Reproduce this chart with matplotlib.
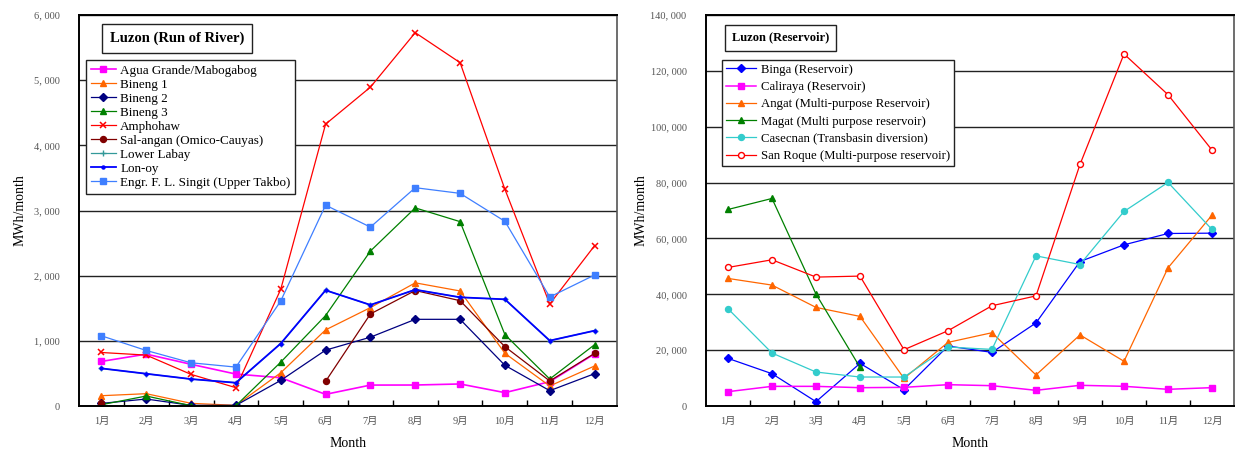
import numpy as np
import matplotlib
matplotlib.use("Agg")
import matplotlib.pyplot as plt
from matplotlib.ticker import FuncFormatter, FixedLocator

plt.rcParams['font.family'] = ['Liberation Serif', 'Noto Sans CJK JP']

months = ["1月", "2月", "3月", "4月", "5月", "6月", "7月", "8月", "9月", "10月", "11月", "12月"]
nan = np.nan

# Luzon run-of-river plants, MWh/month
agua_grande = [684, 796, 640, 490, 434, 179, 321, 322, 338, 205, 373, 800]
bineng_1 = [158, 189, 41, 10, 510, 1168, 1510, 1890, 1765, 808, 307, 614]
bineng_2 = [40, 107, 10, 10, 393, 857, 1056, 1330, 1330, 624, 235, 496]
bineng_3 = [20, 153, 5, 5, 673, 1388, 2378, 3040, 2829, 1095, 414, 941]
amphohaw = [821, 781, 485, 281, 1791, 4325, 4893, 5729, 5269, 3325, 1565, 2460]
sal_angan = [40, nan, nan, nan, nan, 378, 1413, 1772, 1616, 910, 384, 808]
lower_labay = [577, 495, 413, 357, 959, 1776, 1551, 1785, 1668, 1637, 1003, 1156]
lon_oy = [577, 495, 413, 357, 959, 1776, 1551, 1785, 1668, 1637, 1003, 1156]
singit = [1077, 852, 663, 597, 1612, 3082, 2745, 3350, 3263, 2834, 1673, 2010]

# Luzon reservoir plants, MWh/month
binga = [17055, 11568, 1550, 15266, 5844, 21467, 19201, 29749, 51732, 57706, 61768, 61888]
caliraya = [5128, 7037, 7037, 6560, 6680, 7633, 7275, 5615, 7407, 7049, 5973, 6571]
angat = [45677, 43292, 35301, 32081, 9898, 22779, 26238, 11111, 25448, 16010, 49462, 68339]
magat = [70364, 74311, 40072, 13834, nan, nan, nan, nan, nan, nan, nan, nan]
casecnan = [34824, 18962, 12164, 10375, 10375, 21109, 20274, 53763, 50657, 69654, 80048, 63202]
san_roque = [49612, 52356, 46154, 46512, 20155, 26953, 35898, 39427, 86499, 126045, 111470, 91637]

x = np.arange(1, 13)

fig = plt.figure(figsize=(12.35, 4.51), dpi=100)
ax1 = fig.add_axes([79 / 1235, 45 / 451, 538 / 1235, 391 / 451])
ax2 = fig.add_axes([706 / 1235, 45 / 451, 528 / 1235, 391 / 451])

left_series = [
    ("Agua Grande/Mabogabog", agua_grande, "#FF00FF", "s", 4.3, 1.2, {}),
    ("Bineng 1", bineng_1, "#FF6600", "^", 5.0, 0.9, {}),
    ("Bineng 2", bineng_2, "#000080", "D", 3.6, 0.9, {}),
    ("Bineng 3", bineng_3, "#008000", "^", 5.0, 0.9, {}),
    ("Amphohaw", amphohaw, "#FF0000", "x", 3.8, 0.9, {"markeredgewidth": 1.1}),
    ("Sal-angan (Omico-Cauyas)", sal_angan, "#800000", "o", 4.3, 0.9, {}),
    ("Lower Labay", lower_labay, "#339999", "+", 4.0, 0.9, {}),
    ("Lon-oy", lon_oy, "#0000FF", "o", 2.2, 1.3, {}),
    ("Engr. F. L. Singit (Upper Takbo)", singit, "#3F7FFF", "s", 4.5, 0.9, {}),
]

right_series = [
    ("Binga (Reservoir)", binga, "#0000FF", "D", 3.8, 0.9, {}),
    ("Caliraya (Reservoir)", caliraya, "#FF00FF", "s", 4.2, 1.1, {}),
    ("Angat (Multi-purpose Reservoir)", angat, "#FF6600", "^", 5.0, 0.9, {}),
    ("Magat (Multi purpose reservoir)", magat, "#008000", "^", 5.0, 0.9, {}),
    ("Casecnan (Transbasin diversion)", casecnan, "#33CCCC", "o", 4.3, 0.9, {}),
    ("San Roque (Multi-purpose reservoir)", san_roque, "#FF0000", "o", 4.3, 0.9,
     {"markerfacecolor": "white", "markeredgewidth": 1.0}),
]


def thousands(v, pos):
    return f"{int(round(v)):,}".replace(",", ", ")


def style_axes(ax, ymax, ystep):
    ax.set_xlim(0.5, 12.5)
    ax.set_ylim(0, ymax)
    ax.set_yticks(np.arange(0, ymax + 1, ystep))
    ax.yaxis.set_major_formatter(FuncFormatter(thousands))
    ax.tick_params(axis='y', length=0, pad=14, labelsize=7.5, labelcolor='#555555')
    ax.set_xticks(x)
    ax.set_xticklabels(months)
    ax.xaxis.set_minor_locator(FixedLocator(np.arange(1.5, 12.5, 1)))
    ax.tick_params(axis='x', which='major', length=0, pad=8, labelsize=7.5, labelcolor='#555555')
    ax.tick_params(axis='x', which='minor', direction='in', length=4, width=1, color='black')
    ax.grid(axis='y', color='#222222', linewidth=1.0)
    ax.set_axisbelow(True)
    for side in ['left', 'bottom', 'top']:
        ax.spines[side].set_linewidth(1.4)
        ax.spines[side].set_color('black')
    ax.spines['right'].set_linewidth(1.2)
    ax.spines['right'].set_color('#555555')
    ax.set_xlabel("Month", fontsize=10, labelpad=8)
    ax.set_ylabel("MWh/month", fontsize=10)


def draw(ax, series):
    for name, vals, color, marker, ms, lw, extra in series:
        ax.plot(x, vals, color=color, marker=marker, markersize=ms, linewidth=lw,
                markeredgecolor=color, label=name, **extra)


draw(ax1, left_series)
draw(ax2, right_series)
style_axes(ax1, 6000, 1000)
style_axes(ax2, 140000, 20000)
ax1.yaxis.labelpad = 5
ax2.yaxis.labelpad = 2

title_box = dict(boxstyle='square,pad=0.55', facecolor='white', edgecolor='#222222', linewidth=1.0)
ax1.text(0.182, 0.94, "Luzon (Run of River)", transform=ax1.transAxes, ha='center', va='center',
         fontsize=10.5, fontweight='bold', bbox=title_box, zorder=5)
ax2.text(0.141, 0.942, "Luzon (Reservoir)", transform=ax2.transAxes, ha='center', va='center',
         fontsize=9, fontweight='bold', bbox=title_box, zorder=5)

leg1 = ax1.legend(loc='upper left', bbox_to_anchor=(0.013, 0.885), fontsize=9.45,
                  frameon=True, fancybox=False, edgecolor='#222222', framealpha=1,
                  labelspacing=0.14, handlelength=1.9, handletextpad=0.35, borderpad=0.35,
                  borderaxespad=0)
leg1.get_frame().set_linewidth(1.0)
leg2 = ax2.legend(loc='upper left', bbox_to_anchor=(0.030, 0.885), fontsize=9.2,
                  frameon=True, fancybox=False, edgecolor='#222222', framealpha=1,
                  labelspacing=0.41, handlelength=2.4, handletextpad=0.35, borderpad=0.3,
                  borderaxespad=0)
leg2.get_frame().set_linewidth(1.0)

fig.savefig("out.png", dpi=100)
